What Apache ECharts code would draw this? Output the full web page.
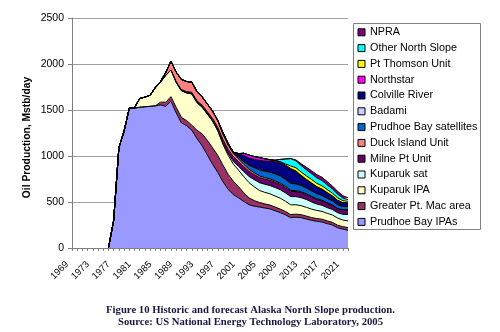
<!DOCTYPE html>
<html>
<head>
<meta charset="utf-8">
<script src="https://cdn.jsdelivr.net/npm/echarts@6/dist/echarts.min.js"></script>
<style>
html, body { margin: 0; padding: 0; background: #fff; }
#chart { width: 500px; height: 332px; }
</style>
</head>
<body>
<div id="chart"></div>
<script>
// Years on the category axis
const years = [
  '1969','1970','1971','1972','1973','1974','1975',
  '1976','1977','1978','1979','1980','1981','1982','1983','1984','1985',
  '1986','1987','1988','1989','1990','1991','1992','1993','1994','1995',
  '1996','1997','1998','1999','2000','2001','2002','2003','2004','2005',
  '2006','2007','2008','2009','2010','2011','2012','2013','2014','2015',
  '2016','2017','2018','2019','2020','2021','2022'
];

// Production by field, Mstb/day (rows: 1969-75, 1976-85, 1986-95, 1996-05, 2006-15, 2016-22)
// '-' marks years before North Slope production began.
const prudhoeBayIPAs = [
  '-','-','-','-','-','-','-',
  0,300,1090,1270,1520,1520,1530,1535,1540,1545,
  1555,1540,1595,1470,1360,1330,1280,1190,1110,1010,
  910,820,720,635,580,545,505,470,455,445,
  435,425,405,385,360,330,335,330,315,300,
  290,283,265,250,220,205,192
];
const greaterPtMac = [
  '-','-','-','-','-','-','-',
  0,0,0,0,0,0,0,0,0,0,
  30,45,50,60,60,55,55,90,130,160,
  180,185,180,165,145,120,95,75,60,50,
  45,42,40,38,36,33,33,32,32,31,
  30,30,30,29,28,27,30
];
const kuparukIPA = [
  '-','-','-','-','-','-','-',
  0,0,0,0,0,5,95,105,120,195,
  217,290,290,270,290,300,340,300,290,285,
  290,270,225,205,185,180,175,165,150,130,
  125,122,120,118,112,106,102,98,95,92,
  88,85,82,80,78,72,72
];
const kuparukSat = [
  '-','-','-','-','-','-','-',
  0,0,0,0,0,0,0,0,0,0,
  0,0,0,0,0,0,0,0,0,0,
  0,0,10,20,30,42,55,68,78,85,
  88,90,92,92,91,90,89,87,85,78,
  70,66,62,60,58,62,70
];
const milnePtUnit = [
  '-','-','-','-','-','-','-',
  0,0,0,0,0,0,0,0,0,5,
  8,3,0,8,12,15,18,20,22,25,
  28,35,42,47,50,52,55,56,56,55,
  56,57,58,58,57,56,55,54,53,51,
  49,47,46,42,40,45,48
];
const duckIslandUnit = [
  '-','-','-','-','-','-','-',
  0,0,0,0,0,0,0,0,0,0,
  0,30,95,105,110,110,110,100,90,85,
  80,75,60,45,35,28,24,22,20,18,
  16,15,14,13,12,11,10,10,9,9,
  8,8,7,7,6,5,5
];
const prudhoeBaySatellites = [
  '-','-','-','-','-','-','-',
  0,0,0,0,0,0,0,0,0,0,
  0,0,0,0,0,0,0,0,0,0,
  0,0,0,5,8,18,30,42,55,65,
  70,74,77,79,78,75,72,68,64,60,
  56,52,48,44,40,36,34
];
const badami = [
  '-','-','-','-','-','-','-',
  0,0,0,0,0,0,0,0,0,0,
  0,0,0,0,0,0,0,0,0,0,
  0,0,15,12,7,6,6,5,5,5,
  5,5,5,5,5,5,5,5,4,4,
  4,4,4,3,3,3,3
];
const colvilleRiver = [
  '-','-','-','-','-','-','-',
  0,0,0,0,0,0,0,0,0,0,
  0,0,0,0,0,0,0,0,0,0,
  0,0,0,0,0,35,60,75,85,100,
  105,112,125,135,140,150,130,100,85,78,
  68,62,55,48,43,35,33
];
const northstar = [
  '-','-','-','-','-','-','-',
  0,0,0,0,0,0,0,0,0,0,
  0,0,0,0,0,0,0,0,0,0,
  0,0,0,0,0,0,25,32,30,30,
  25,18,14,12,10,8,7,6,5,5,
  4,4,4,3,3,3,3
];
const ptThomsonUnit = [
  '-','-','-','-','-','-','-',
  0,0,0,0,0,0,0,0,0,0,
  0,0,0,0,0,0,0,0,0,0,
  0,0,0,0,0,0,0,0,0,0,
  0,0,0,3,12,28,34,36,37,37,
  36,35,33,30,27,22,18
];
const otherNorthSlope = [
  '-','-','-','-','-','-','-',
  0,0,0,0,0,0,0,0,0,0,
  0,0,0,0,0,0,0,0,0,0,
  0,0,0,0,0,0,0,0,0,0,
  0,0,5,25,55,80,75,70,66,63,
  60,57,52,46,40,28,18
];
const npra = [
  '-','-','-','-','-','-','-',
  0,0,0,0,0,0,0,0,0,0,
  0,0,0,0,0,0,0,0,0,0,
  0,0,0,0,0,0,0,0,0,0,
  0,0,0,0,0,0,10,20,28,32,
  35,36,34,32,30,26,20
];

// Stack order, bottom to top
const fields = [
  { name: 'Prudhoe Bay IPAs',        data: prudhoeBayIPAs,       color: '#9999FF' },
  { name: 'Greater Pt. Mac area',    data: greaterPtMac,         color: '#993366' },
  { name: 'Kuparuk IPA',             data: kuparukIPA,           color: '#FFFFCC' },
  { name: 'Kuparuk sat',             data: kuparukSat,           color: '#CCFFFF' },
  { name: 'Milne Pt Unit',           data: milnePtUnit,          color: '#660066' },
  { name: 'Duck Island Unit',        data: duckIslandUnit,       color: '#FF8080' },
  { name: 'Prudhoe Bay satellites',  data: prudhoeBaySatellites, color: '#0066CC' },
  { name: 'Badami',                  data: badami,               color: '#CCCCFF' },
  { name: 'Colville River',          data: colvilleRiver,        color: '#000080' },
  { name: 'Northstar',               data: northstar,            color: '#FF00FF' },
  { name: 'Pt Thomson Unit',         data: ptThomsonUnit,        color: '#FFFF00' },
  { name: 'Other North Slope',       data: otherNorthSlope,      color: '#00FFFF' },
  { name: 'NPRA',                    data: npra,                 color: '#800080' }
];

const yAxisTitle = 'Oil Production, Mstb/day';
const captionLines = [
  'Figure 10 Historic and forecast Alaska North Slope production.',
  'Source: US National Energy Technology Laboratory, 2005'
];

const sans = '"Liberation Sans", Arial, sans-serif';
const serif = '"Liberation Serif", "Times New Roman", serif';
const chart = echarts.init(document.getElementById('chart'), null, { renderer: 'canvas' });

chart.setOption({
  animation: false,
  backgroundColor: '#ffffff',
  textStyle: { fontFamily: sans, color: '#000' },
  grid: { left: 72, right: 152, top: 18, bottom: 84, containLabel: false },
  legend: {
    orient: 'vertical',
    left: 353,
    top: 23,
    padding: [3.3, 4, 2, 4.5],
    itemWidth: 7,
    itemHeight: 7,
    itemGap: 3.8,
    icon: 'rect',
    itemStyle: { borderColor: '#000', borderWidth: 1 },
    textStyle: { fontFamily: sans, fontSize: 10.8, lineHeight: 12, color: '#000' },
    selectedMode: false,
    data: fields.map(f => f.name).reverse()
  },
  graphic: [
    {
      type: 'rect',
      shape: { x: 353.5, y: 23.5, width: 127, height: 206 },
      style: { fill: 'none', stroke: '#808080', lineWidth: 1 },
      silent: true,
      z: 10
    },
    {
      type: 'text',
      x: 27, y: 137.5,
      rotation: Math.PI / 2,
      style: {
        text: yAxisTitle,
        fontFamily: sans, fontWeight: 'bold', fontSize: 10.3, fill: '#000',
        align: 'center', verticalAlign: 'middle'
      },
      silent: true
    },
    {
      type: 'text',
      x: 250.5, y: 310.7,
      style: {
        text: captionLines[0],
        fontFamily: serif, fontWeight: 'bold', fontSize: 10.7, fill: '#1a1a40',
        align: 'center', verticalAlign: 'middle'
      },
      silent: true
    },
    {
      type: 'text',
      x: 250.5, y: 322,
      style: {
        text: captionLines[1],
        fontFamily: serif, fontWeight: 'bold', fontSize: 10.7, fill: '#1a1a40',
        align: 'center', verticalAlign: 'middle'
      },
      silent: true
    }
  ],
  xAxis: {
    type: 'category',
    data: years,
    boundaryGap: false,
    axisLine: { lineStyle: { color: '#808080', width: 1 } },
    axisTick: { show: true, interval: 0, length: 3, lineStyle: { color: '#808080' } },
    axisLabel: { interval: 3, rotate: 45, fontSize: 9.5, margin: 10, padding: [0, 7, 0, 0], color: '#000', fontFamily: sans },
    splitLine: { show: false }
  },
  yAxis: {
    type: 'value',
    min: 0,
    max: 2500,
    interval: 500,
    axisLine: { show: true, lineStyle: { color: '#808080', width: 1 } },
    axisTick: { show: true, length: 4, lineStyle: { color: '#808080' } },
    axisLabel: { fontSize: 10.5, margin: 8, color: '#000', fontFamily: sans, formatter: v => String(v) },
    splitLine: { show: true, lineStyle: { color: '#a0a0a0', width: 1 } }
  },
  series: fields.map(f => ({
    name: f.name,
    type: 'line',
    stack: 'total',
    data: f.data,
    symbol: 'none',
    smooth: false,
    color: f.color,
    itemStyle: { color: f.color },
    lineStyle: { color: '#000', width: 1 },
    areaStyle: { color: f.color, opacity: 1 },
    emphasis: { disabled: true },
    silent: true
  }))
});
</script>
</body>
</html>
